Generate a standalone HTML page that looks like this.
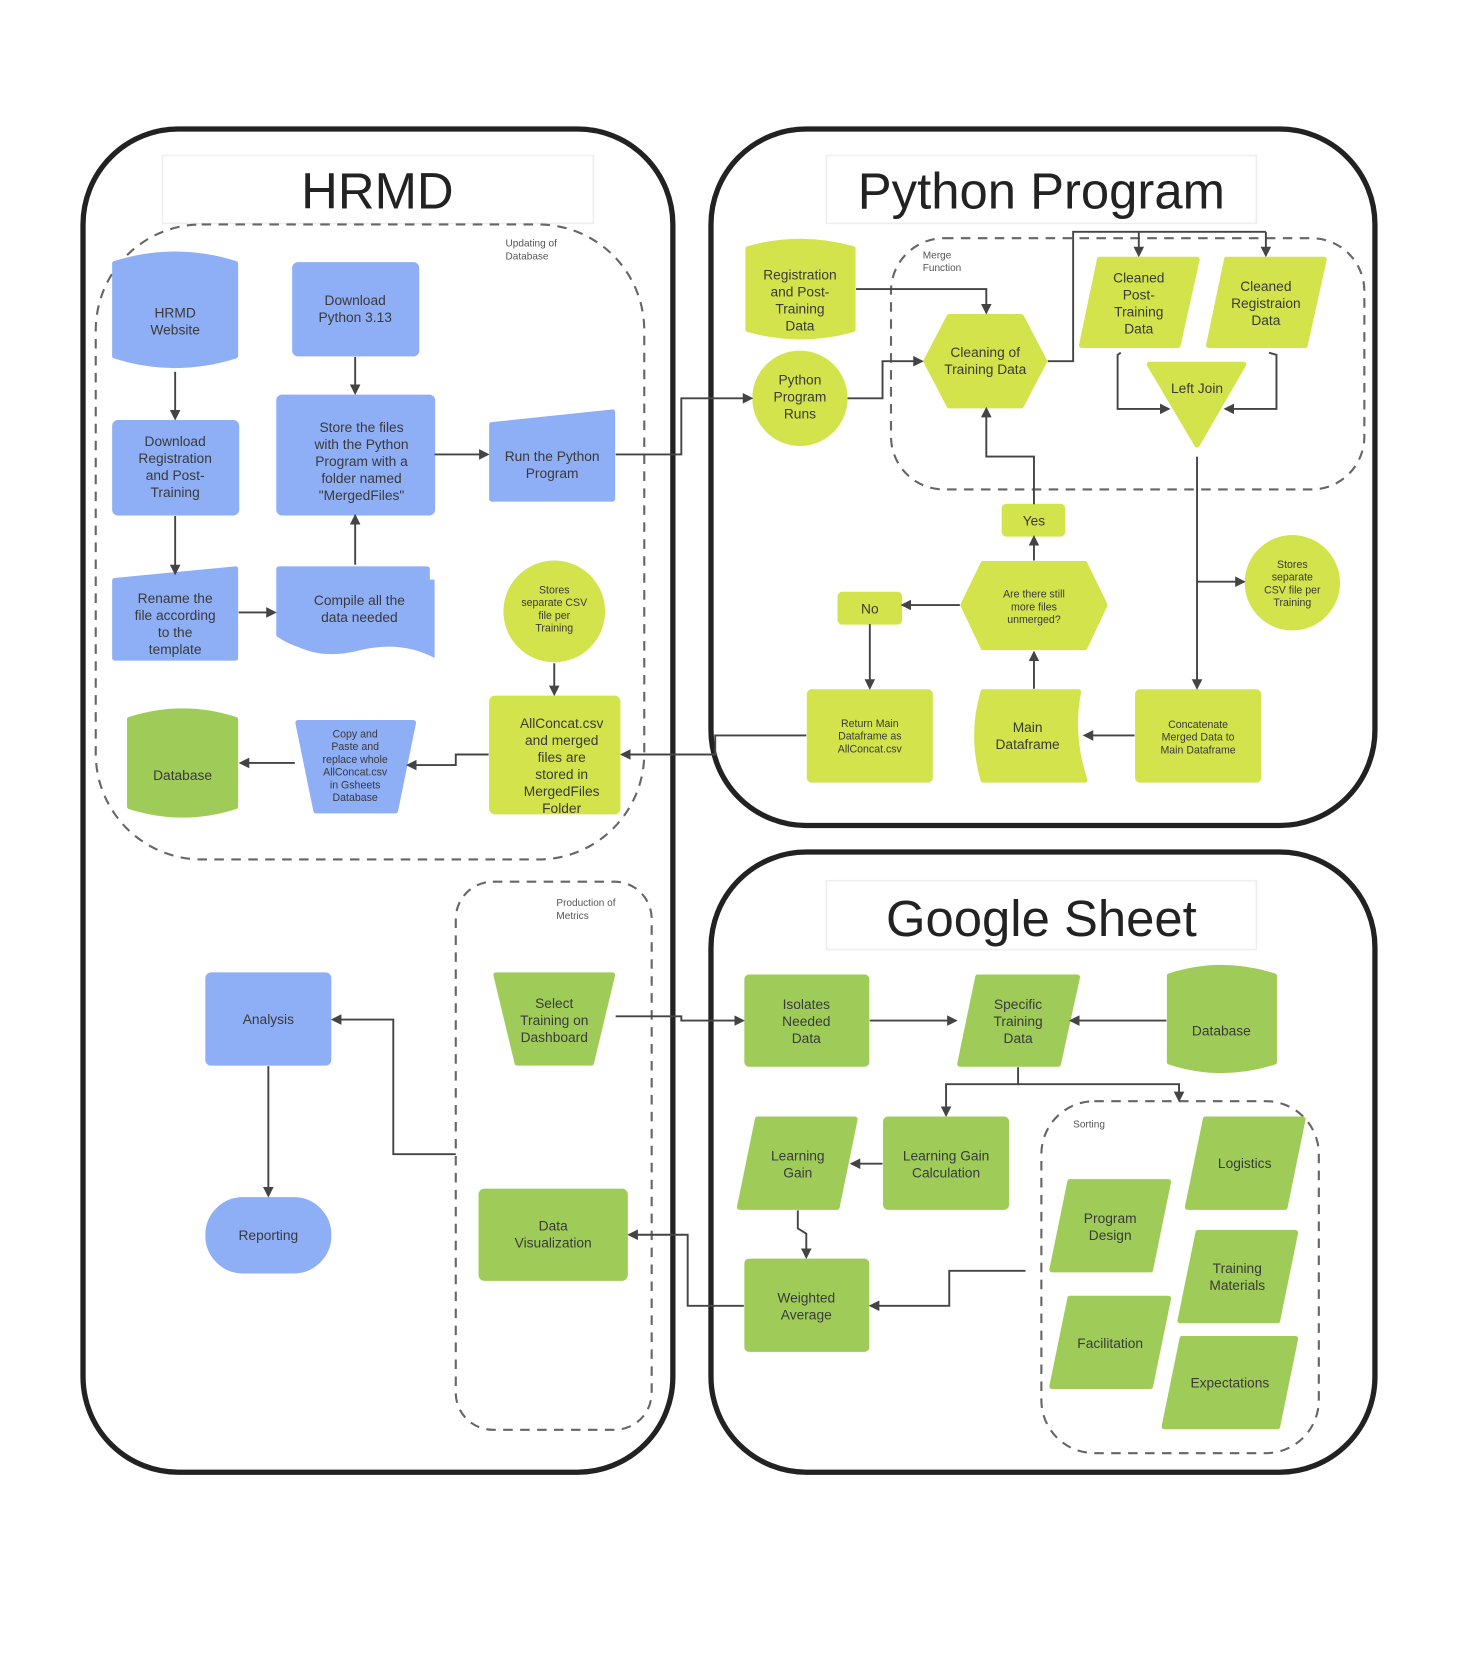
<!DOCTYPE html>
<html><head><meta charset="utf-8"><style>
html,body{margin:0;padding:0;background:#fff;}
svg{display:block;}
text{font-family:"Liberation Sans",sans-serif;fill:#3a3a3a;text-anchor:middle;}
.n{font-size:13px;}
.s{font-size:10px;}
.l{font-size:9.5px;text-anchor:start;fill:#555;}
.c{fill:none;stroke:#444;stroke-width:1.8;}
.b{fill:#8eaef5;stroke:#8eaef5;stroke-width:5;stroke-linejoin:round;}
.y{fill:#d3e34b;stroke:#d3e34b;stroke-width:5;stroke-linejoin:round;}
.g{fill:#9fcc58;stroke:#9fcc58;stroke-width:5;stroke-linejoin:round;}
.d{fill:none;stroke:#666;stroke-width:2;stroke-dasharray:9 7;}
.p{fill:none;stroke:#222;stroke-width:5;}
.t{fill:#fff;stroke:#eee;stroke-width:1.5;}
</style></head><body>
<svg width="1473" height="1657" viewBox="1.6 1.3 1391 1563" preserveAspectRatio="none" xmlns="http://www.w3.org/2000/svg">
<defs><marker id="a" markerWidth="10" markerHeight="10" refX="8" refY="5" orient="auto" markerUnits="userSpaceOnUse"><path d="M0,0 L10,5 L0,10 z" fill="#444"/></marker></defs>
<rect x="0" y="0" width="1400" height="1570" fill="#fff"/>
<!-- panels -->
<rect class="p" x="80" y="123" width="557" height="1267" rx="90"/>
<rect class="p" x="673" y="123" width="627" height="657" rx="90"/>
<rect class="p" x="673" y="805" width="627" height="585" rx="90"/>
<rect class="t" x="155" y="148" width="407" height="64"/>
<rect class="t" x="782" y="148" width="406" height="64"/>
<rect class="t" x="782" y="832" width="406" height="65"/>
<text x="358" y="198" style="font-size:48px;fill:#222">HRMD</text>
<text x="985" y="198" style="font-size:48px;fill:#222">Python Program</text>
<text x="985" y="884" style="font-size:48px;fill:#222">Google Sheet</text>
<!-- dashed groups -->
<rect class="d" x="92" y="213" width="518" height="599" rx="100"/>
<text class="l" x="479" y="234">Updating of</text><text class="l" x="479" y="246">Database</text>
<rect class="d" x="843" y="226" width="447" height="237" rx="50"/>
<text class="l" x="873" y="245">Merge</text><text class="l" x="873" y="257">Function</text>
<rect class="d" x="432" y="833" width="185" height="517" rx="35"/>
<text class="l" x="527" y="856">Production of</text><text class="l" x="527" y="868">Metrics</text>
<rect class="d" x="985" y="1040" width="262" height="332" rx="50"/>
<text class="l" x="1015" y="1065">Sorting</text>

<!-- HRMD nodes -->
<path class="b" d="M110,250 Q167,232 224,250 L224,337 Q167,355 110,337 Z"/>
<text class="n" x="167" y="301">HRMD</text><text class="n" x="167" y="317">Website</text>
<rect class="b" x="280" y="251" width="115" height="84" rx="3"/>
<text class="n" x="337" y="289">Download</text><text class="n" x="337" y="305">Python 3.13</text>
<rect class="b" x="110" y="400" width="115" height="85" rx="3"/>
<text class="n" x="167" y="422">Download</text><text class="n" x="167" y="438">Registration</text><text class="n" x="167" y="454">and Post-</text><text class="n" x="167" y="470">Training</text>
<rect class="b" x="265" y="376" width="145" height="109" rx="3"/>
<text class="n" x="343" y="409">Store the files</text><text class="n" x="343" y="425">with the Python</text><text class="n" x="343" y="441">Program with a</text><text class="n" x="343" y="457">folder named</text><text class="n" x="343" y="473">"MergedFiles"</text>
<path class="b" d="M466,402 L580,390 L580,472 L466,472 Z"/>
<text class="n" x="523" y="436">Run the Python</text><text class="n" x="523" y="452">Program</text>
<path class="b" d="M110,549 L224,538 L224,622 L110,622 Z"/>
<text class="n" x="167" y="570">Rename the</text><text class="n" x="167" y="586">file according</text><text class="n" x="167" y="602">to the</text><text class="n" x="167" y="618">template</text>
<path d="M272,540 L402,540 L402,548 L412,548 L412,622 Q380,605 340,615 Q300,625 272,605 Z" fill="#8eaef5"/>
<path class="b" d="M265,538 L405,538 L405,612 Q375,600 335,610 Q295,620 265,600 Z"/>
<text class="n" x="341" y="572">Compile all the</text><text class="n" x="341" y="588">data needed</text>
<circle cx="525" cy="578" r="48" fill="#d3e34b"/>
<text class="s" x="525" y="561">Stores</text><text class="s" x="525" y="573">separate CSV</text><text class="s" x="525" y="585">file per</text><text class="s" x="525" y="597">Training</text>
<rect class="y" x="466" y="660" width="119" height="107" rx="3"/>
<text class="n" x="532" y="688">AllConcat.csv</text><text class="n" x="532" y="704">and merged</text><text class="n" x="532" y="720">files are</text><text class="n" x="532" y="736">stored in</text><text class="n" x="532" y="752">MergedFiles</text><text class="n" x="532" y="768">Folder</text>
<path class="b" d="M283,683 L392,683 L375,766 L300,766 Z"/>
<text class="s" x="337" y="697">Copy and</text><text class="s" x="337" y="709">Paste and</text><text class="s" x="337" y="721">replace whole</text><text class="s" x="337" y="733">AllConcat.csv</text><text class="s" x="337" y="745">in Gsheets</text><text class="s" x="337" y="757">Database</text>
<path class="g" d="M124,680 Q174,664 224,680 L224,762 Q174,778 124,762 Z"/>
<text class="n" x="174" y="737">Database</text>
<rect class="b" x="198" y="921" width="114" height="83" rx="3"/>
<text class="n" x="255" y="967">Analysis</text>
<rect class="b" x="198" y="1133" width="114" height="67" rx="33"/>
<text class="n" x="255" y="1171">Reporting</text>
<path class="g" d="M470,921 L580,921 L560,1004 L490,1004 Z"/>
<text class="n" x="525" y="952">Select</text><text class="n" x="525" y="968">Training on</text><text class="n" x="525" y="984">Dashboard</text>
<rect class="g" x="456" y="1125" width="136" height="82" rx="3"/>
<text class="n" x="524" y="1162">Data</text><text class="n" x="524" y="1178">Visualization</text>

<!-- Python nodes -->
<path class="y" d="M708,236 Q757,222 807,236 L807,312 Q757,326 708,312 Z"/>
<text class="n" x="757" y="265">Registration</text><text class="n" x="757" y="281">and Post-</text><text class="n" x="757" y="297">Training</text><text class="n" x="757" y="313">Data</text>
<circle cx="757" cy="377" r="45" fill="#d3e34b"/>
<text class="n" x="757" y="364">Python</text><text class="n" x="757" y="380">Program</text><text class="n" x="757" y="396">Runs</text>
<path class="y" d="M898,300 L966,300 L988,342 L966,384 L898,384 L876,342 Z"/>
<text class="n" x="932" y="338">Cleaning of</text><text class="n" x="932" y="354">Training Data</text>
<path class="y" d="M1040,246 L1132,246 L1114,327 L1023,327 Z"/>
<text class="n" x="1077" y="268">Cleaned</text><text class="n" x="1077" y="284">Post-</text><text class="n" x="1077" y="300">Training</text><text class="n" x="1077" y="316">Data</text>
<path class="y" d="M1160,246 L1252,246 L1234,327 L1143,327 Z"/>
<text class="n" x="1197" y="276">Cleaned</text><text class="n" x="1197" y="292">Registraion</text><text class="n" x="1197" y="308">Data</text>
<path class="y" d="M1087,345 L1176,345 L1132,421 Z"/>
<text class="n" x="1132" y="372">Left Join</text>
<circle cx="1222" cy="551" r="45" fill="#d3e34b"/>
<text class="s" x="1222" y="537">Stores</text><text class="s" x="1222" y="549">separate</text><text class="s" x="1222" y="561">CSV file per</text><text class="s" x="1222" y="573">Training</text>
<rect class="y" x="950" y="479" width="55" height="26" rx="2"/>
<text class="n" x="978" y="497">Yes</text>
<path class="y" d="M930,533 L1026,533 L1045,572 L1026,612 L930,612 L911,572 Z"/>
<text class="s" x="978" y="565">Are there still</text><text class="s" x="978" y="577">more files</text><text class="s" x="978" y="589">unmerged?</text>
<rect class="y" x="795" y="562" width="56" height="26" rx="2"/>
<text class="n" x="823" y="580">No</text>
<rect class="y" x="766" y="654" width="114" height="83" rx="2"/>
<text class="s" x="823" y="687">Return Main</text><text class="s" x="823" y="699">Dataframe as</text><text class="s" x="823" y="711">AllConcat.csv</text>
<path class="y" d="M930,654 L1020,654 Q1012,695 1026,737 L930,737 Q918,695 930,654 Z"/>
<text class="n" x="972" y="692">Main</text><text class="n" x="972" y="708">Dataframe</text>
<rect class="y" x="1076" y="654" width="114" height="83" rx="2"/>
<text class="s" x="1133" y="688">Concatenate</text><text class="s" x="1133" y="700">Merged Data to</text><text class="s" x="1133" y="712">Main Dataframe</text>

<!-- Google nodes -->
<rect class="g" x="707" y="923" width="113" height="82" rx="2"/>
<text class="n" x="763" y="953">Isolates</text><text class="n" x="763" y="969">Needed</text><text class="n" x="763" y="985">Data</text>
<path class="g" d="M925,923 L1019,923 L1001,1005 L908,1005 Z"/>
<text class="n" x="963" y="953">Specific</text><text class="n" x="963" y="969">Training</text><text class="n" x="963" y="985">Data</text>
<path class="g" d="M1106,922 Q1155,906 1205,922 L1205,1003 Q1155,1019 1106,1003 Z"/>
<text class="n" x="1155" y="978">Database</text>
<path class="g" d="M717,1057 L809,1057 L792,1140 L700,1140 Z"/>
<text class="n" x="755" y="1096">Learning</text><text class="n" x="755" y="1112">Gain</text>
<rect class="g" x="838" y="1057" width="114" height="83" rx="2"/>
<text class="n" x="895" y="1096">Learning Gain</text><text class="n" x="895" y="1112">Calculation</text>
<rect class="g" x="707" y="1191" width="113" height="83" rx="2"/>
<text class="n" x="763" y="1230">Weighted</text><text class="n" x="763" y="1246">Average</text>
<path class="g" d="M1140,1057 L1232,1057 L1215,1140 L1123,1140 Z"/>
<text class="n" x="1177" y="1103">Logistics</text>
<path class="g" d="M1012,1116 L1105,1116 L1088,1199 L995,1199 Z"/>
<text class="n" x="1050" y="1155">Program</text><text class="n" x="1050" y="1171">Design</text>
<path class="g" d="M1133,1164 L1225,1164 L1208,1247 L1116,1247 Z"/>
<text class="n" x="1170" y="1202">Training</text><text class="n" x="1170" y="1218">Materials</text>
<path class="g" d="M1012,1226 L1105,1226 L1088,1309 L995,1309 Z"/>
<text class="n" x="1050" y="1273">Facilitation</text>
<path class="g" d="M1118,1264 L1225,1264 L1208,1347 L1101,1347 Z"/>
<text class="n" x="1163" y="1310">Expectations</text>

<!-- connectors HRMD -->
<path class="c" marker-end="url(#a)" d="M167,352 L167,396"/>
<path class="c" marker-end="url(#a)" d="M337,338 L337,372"/>
<path class="c" marker-end="url(#a)" d="M412,430 L462,430"/>
<path class="c" marker-end="url(#a)" d="M167,488 L167,542"/>
<path class="c" marker-end="url(#a)" d="M227,579 L261,579"/>
<path class="c" marker-end="url(#a)" d="M337,534 L337,488"/>
<path class="c" marker-end="url(#a)" d="M525,627 L525,656"/>
<path class="c" marker-end="url(#a)" d="M463,713 L432,713 L432,723 L387,723"/>
<path class="c" marker-end="url(#a)" d="M280,721 L229,721"/>
<path class="c" marker-end="url(#a)" d="M583,430 L645,430 L645,377 L711,377"/>
<path class="c" marker-end="url(#a)" d="M763,695 L677,695 L677,713 L589,713"/>
<path class="c" marker-end="url(#a)" d="M583,960 L645,960 L645,964 L703,964"/>
<path class="c" marker-end="url(#a)" d="M432,1090 L373,1090 L373,963 L316,963"/>
<path class="c" marker-end="url(#a)" d="M255,1007 L255,1129"/>
<path class="c" marker-end="url(#a)" d="M704,1233 L651,1233 L651,1166 L596,1166"/>
<!-- connectors Python -->
<path class="c" marker-end="url(#a)" d="M810,274 L933,274 L933,296"/>
<path class="c" marker-end="url(#a)" d="M802,377 L835,377 L835,342 L872,342"/>
<path class="c" d="M991,342 L1015,342 L1015,220 L1197,220"/>
<path class="c" marker-end="url(#a)" d="M1197,220 L1197,242"/>
<path class="c" marker-end="url(#a)" d="M1077,220 L1077,242"/>
<path class="c" marker-end="url(#a)" d="M1060,334 L1057,336 L1057,387 L1105,387"/>
<path class="c" marker-end="url(#a)" d="M1200,334 L1207,336 L1207,387 L1159,387"/>
<path class="c" marker-end="url(#a)" d="M1132,432 L1132,650"/>
<path class="c" marker-end="url(#a)" d="M1132,550 L1176,550"/>
<path class="c" marker-end="url(#a)" d="M1073,695 L1026,695"/>
<path class="c" marker-end="url(#a)" d="M978,651 L978,617"/>
<path class="c" marker-end="url(#a)" d="M978,530 L978,508"/>
<path class="c" marker-end="url(#a)" d="M978,477 L978,432 L933,432 L933,387"/>
<path class="c" marker-end="url(#a)" d="M908,572 L854,572"/>
<path class="c" marker-end="url(#a)" d="M823,590 L823,650"/>
<!-- connectors Google -->
<path class="c" marker-end="url(#a)" d="M823,964 L904,964"/>
<path class="c" marker-end="url(#a)" d="M1103,964 L1013,964"/>
<path class="c" marker-end="url(#a)" d="M963,1008 L963,1024 L895,1024 L895,1053"/>
<path class="c" marker-end="url(#a)" d="M963,1024 L1115,1024 L1115,1039"/>
<path class="c" marker-end="url(#a)" d="M835,1099 L806,1099"/>
<path class="c" marker-end="url(#a)" d="M755,1143 L755,1160 L763,1165 L763,1187"/>
<path class="c" marker-end="url(#a)" d="M970,1200 L898,1200 L898,1233 L824,1233"/>
</svg>
</body></html>
